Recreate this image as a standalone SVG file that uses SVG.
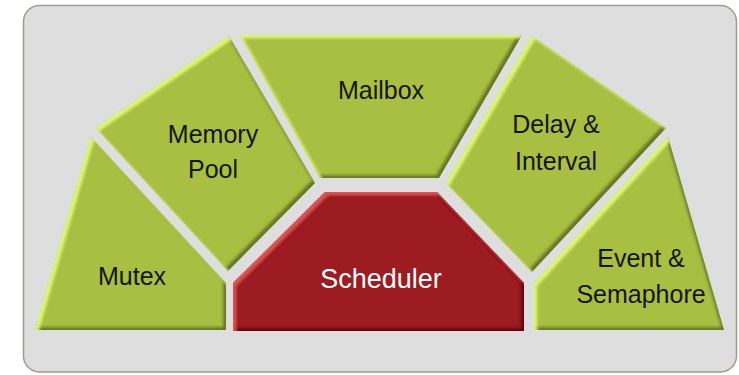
<svg xmlns="http://www.w3.org/2000/svg" width="739" height="375" viewBox="0 0 739 375">
<defs>
<style>
.g{fill:#a9bf42;filter:url(#bevG)}
.r{fill:#9c1e22;filter:url(#bevR)}
.t{font-family:"Liberation Sans",Arial,sans-serif;font-size:25px;fill:#141408;text-anchor:middle}
.tw{fill:#ffffff;font-size:27px}
</style>
<filter id="bevG" x="-5%" y="-5%" width="110%" height="110%">
<feGaussianBlur in="SourceAlpha" stdDeviation="1.8" result="b"/>
<feOffset in="b" dx="-3" dy="-3" result="o1"/>
<feComposite in="SourceAlpha" in2="o1" operator="out" result="sm"/>
<feFlood flood-color="#3d4a0e" flood-opacity="0.75"/>
<feComposite in2="sm" operator="in" result="sh"/>
<feOffset in="b" dx="3" dy="3" result="o2"/>
<feComposite in="SourceAlpha" in2="o2" operator="out" result="hm"/>
<feFlood flood-color="#e8ff7a" flood-opacity="0.85"/>
<feComposite in2="hm" operator="in" result="hl"/>
<feMerge><feMergeNode in="SourceGraphic"/><feMergeNode in="sh"/><feMergeNode in="hl"/></feMerge>
</filter>
<filter id="bevR" x="-5%" y="-5%" width="110%" height="110%">
<feGaussianBlur in="SourceAlpha" stdDeviation="1.8" result="b"/>
<feOffset in="b" dx="-3" dy="-3" result="o1"/>
<feComposite in="SourceAlpha" in2="o1" operator="out" result="sm"/>
<feFlood flood-color="#4a0508" flood-opacity="0.75"/>
<feComposite in2="sm" operator="in" result="sh"/>
<feOffset in="b" dx="3" dy="3" result="o2"/>
<feComposite in="SourceAlpha" in2="o2" operator="out" result="hm"/>
<feFlood flood-color="#e85a5a" flood-opacity="0.85"/>
<feComposite in2="hm" operator="in" result="hl"/>
<feMerge><feMergeNode in="SourceGraphic"/><feMergeNode in="sh"/><feMergeNode in="hl"/></feMerge>
</filter>
</defs>
<rect x="0" y="0" width="739" height="375" fill="#ffffff"/>
<rect id="frame" x="23.5" y="5.5" width="713" height="366.5" rx="16" fill="#dedede" stroke="#a39a8c" stroke-width="1.5"/>
<g id="memory-pool">
<polygon class="g" points="229,36 315,183 228,271 96,128"/>
<text class="t" x="213" y="143">Memory</text>
<text class="t" x="213" y="178">Pool</text>
</g>
<g id="mutex">
<polygon class="g" points="91,137 226,283 226,330 35,330"/>
<text class="t" x="132" y="285">Mutex</text>
</g>
<g id="mailbox">
<polygon class="g" points="240,35 522,35 439,178 320,178"/>
<text class="t" x="381" y="99">Mailbox</text>
</g>
<g id="delay-interval">
<polygon class="g" points="532,36 666,128 532,272 446,183"/>
<text class="t" x="556" y="133">Delay &amp;</text>
<text class="t" x="556" y="170">Interval</text>
</g>
<g id="event-semaphore">
<polygon class="g" points="668,137 724,330 534,330 534,283"/>
<text class="t" x="641" y="267">Event &amp;</text>
<text class="t" x="641" y="303">Semaphore</text>
</g>
<g id="scheduler">
<polygon class="r" points="233,283 325,192 437,192 524,283 524,331 233,331"/>
<text class="t tw" x="381" y="288">Scheduler</text>
</g>
</svg>
